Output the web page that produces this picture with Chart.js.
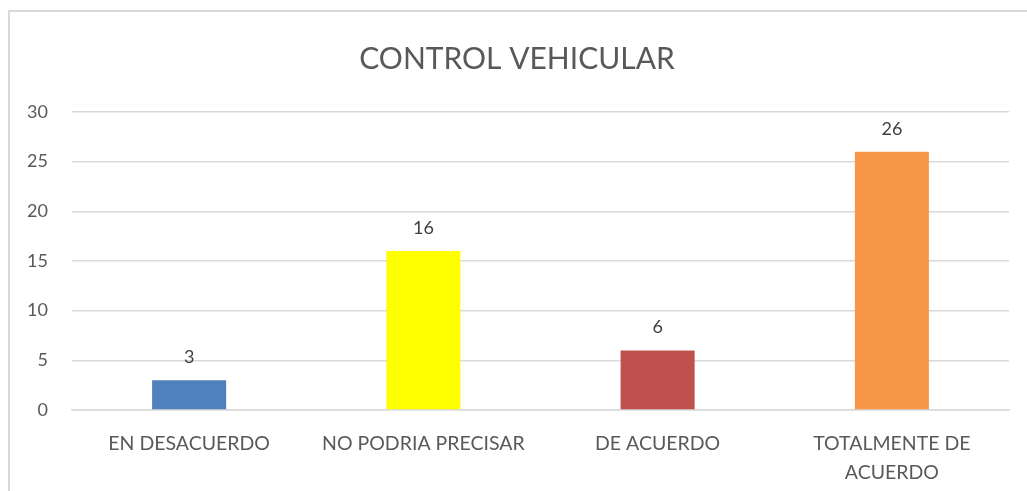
<!DOCTYPE html>
<html>
<head>
<meta charset="utf-8">
<script src="https://cdn.jsdelivr.net/npm/chart.js@4.4.0/dist/chart.umd.min.js"></script>
<style>
  html, body { margin: 0; padding: 0; background: #fff; overflow: hidden; }
  #frame { position: absolute; left: 8px; top: 10px; width: 1030px; height: 500px; border: 2px solid #d9d9d9; box-sizing: border-box; }
  #wrap { position: absolute; left: 0; top: 0; width: 1027px; height: 491px; }
</style>
</head>
<body>
<div id="frame"></div>
<div id="wrap"><canvas id="chart" width="1027" height="491"></canvas></div>
<script>
const categories = ['EN DESACUERDO', 'NO PODRIA PRECISAR', 'DE ACUERDO', ['TOTALMENTE DE', 'ACUERDO']];
const values = [3, 16, 6, 26];
const barColors = ['#4f81bd', '#ffff00', '#c0504d', '#f79646'];
const yTicks = [0, 5, 10, 15, 20, 25, 30];

const FONT = 'Lato, "Open Sans", sans-serif';

// draws the value above each bar
const valueLabels = {
    id: 'valueLabels',
    afterDatasetsDraw(chart) {
        const ctx = chart.ctx;
        const meta = chart.getDatasetMeta(0);
        ctx.save();
        ctx.font = '18px ' + FONT;
        ctx.fillStyle = '#404040';
        ctx.textAlign = 'center';
        ctx.textBaseline = 'middle';
        meta.data.forEach((bar, i) => {
            ctx.fillText(values[i], bar.x, bar.y - 23);
        });
        ctx.restore();
    }
};

const ctx = document.getElementById('chart').getContext('2d');
new Chart(ctx, {
    type: 'bar',
    data: {
        labels: categories,
        datasets: [{
            data: values,
            backgroundColor: barColors,
            categoryPercentage: 1,
            barPercentage: 0.316
        }]
    },
    options: {
        responsive: false,
        animation: false,
        layout: { padding: { left: 25, right: 18, top: 0, bottom: 0 } },
        plugins: {
            legend: { display: false },
            tooltip: { enabled: false },
            title: {
                display: true,
                text: 'CONTROL VEHICULAR',
                color: '#595959',
                font: { family: FONT, size: 30, weight: 'normal' },
                padding: { top: 41, bottom: 35 }
            }
        },
        scales: {
            y: {
                min: 0,
                max: 30,
                afterBuildTicks(axis) { axis.ticks = yTicks.map(v => ({ value: v })); },
                afterFit(axis) { axis.width = 47; },
                grid: { color: '#d9d9d9', lineWidth: 1.5, drawTicks: false },
                border: { display: false },
                ticks: { color: '#595959', font: { family: FONT, size: 18 }, padding: 24 }
            },
            x: {
                afterFit(axis) { axis.height = 81; },
                grid: { display: false },
                border: { color: '#d9d9d9', width: 1.5 },
                ticks: { color: '#595959', font: { family: FONT, size: 19.5, lineHeight: 1.5 }, padding: 11, maxRotation: 0, autoSkip: false }
            }
        }
    },
    plugins: [valueLabels]
});
</script>
</body>
</html>
